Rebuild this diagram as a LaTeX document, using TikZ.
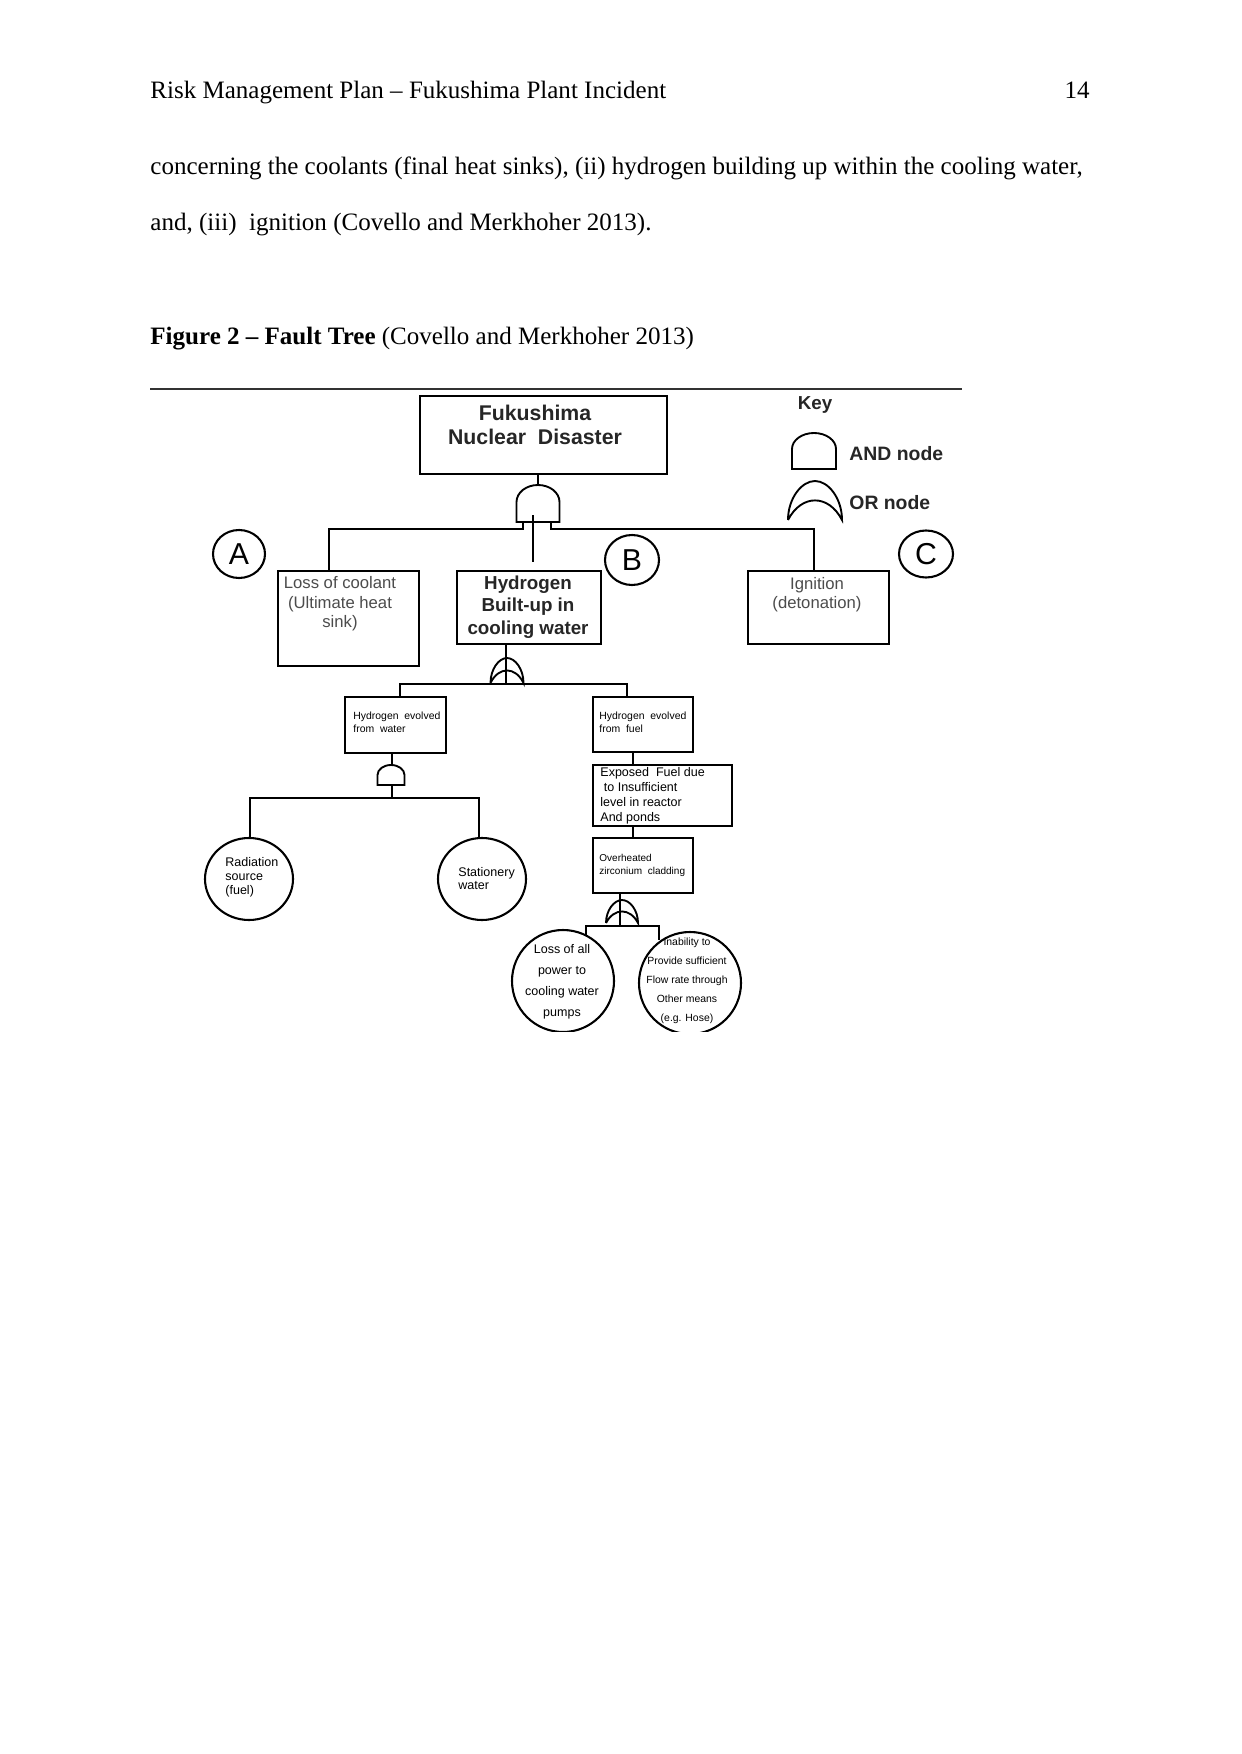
\documentclass[tikz,border=0pt]{standalone}
\usepackage{fontspec}
\setmainfont{Liberation Serif}
\newfontfamily\arialf{Liberation Sans}
\usetikzlibrary{shapes.geometric,calc}
\def\U{0.4795pt}
\newcommand\FTand[5]{% cx, top, width, height, arc height
  \draw[gate] ({#1-#3/2},{#2+#4}) -- ({#1-#3/2},{#2+#5})
    .. controls ({#1-#3/2},{#2+0.448*#5}) and ({#1-0.276*#3},{#2}) .. ({#1},{#2})
    .. controls ({#1+0.276*#3},{#2}) and ({#1+#3/2},{#2+0.448*#5}) .. ({#1+#3/2},{#2+#5})
    -- ({#1+#3/2},{#2+#4}) -- cycle;}
\newcommand\FTor[4]{% cx, top, width, height
  \draw[gate] ({#1-#3/2},{#2+#4})
    .. controls ({#1-#3/2},{#2+0.45*#4}) and ({#1-0.25*#3},{#2}) .. ({#1},{#2})
    .. controls ({#1+0.25*#3},{#2}) and ({#1+#3/2},{#2+0.45*#4}) .. ({#1+#3/2},{#2+#4})
    .. controls ({#1+0.25*#3},{#2+0.33*#4}) and ({#1-0.25*#3},{#2+0.33*#4}) .. ({#1-#3/2},{#2+#4});}
\begin{document}
\begin{tikzpicture}[x=0.4795pt,y=-0.4795pt,
  box/.style 2 args={draw, rectangle, line width=1pt, inner sep=0pt,
    minimum width=#1*\U, minimum height=#2*\U},
  ell/.style 2 args={draw, ellipse, line width=1pt, inner sep=0pt,
    minimum width=#1*\U, minimum height=#2*\U},
  conn/.style={line width=0.9pt},
  gate/.style={line width=0.9pt},
  page/.style={inner sep=0pt, font=\fontsize{12}{14}\selectfont},
  tx/.style={inner sep=0pt, align=center},
  txl/.style={inner sep=0pt, align=left}
]
\fill[white] (0,0) rectangle (1241,1754);
\useasboundingbox (0,0) rectangle (1241,1754);

% page text
\node[page, anchor=base west] (hdr) at (150,99) {Risk Management Plan – Fukushima Plant Incident};
\node[page, anchor=base east] (pgno) at (1090,99) {14};
\node[page, anchor=base west] (b1) at (150,175) {concerning the coolants (final heat sinks), (ii) hydrogen building up within the cooling water,};
\node[page, anchor=base west] (b2) at (150,231) {and, (iii)\ \ ignition (Covello and Merkhoher 2013).};
\node[page, anchor=base west] (cap) at (150,345) {\textbf{Figure 2 – Fault Tree} (Covello and Merkhoher 2013)};
\draw[line width=0.7pt, black!80] (150,389) -- (962,389);

% boxes
\node[box={247}{78}] (fuk) at (543.5,435) {};
\node[tx, font=\arialf\bfseries\fontsize{10.2}{11.5}\selectfont, text=black!85] (fukt) at (535,425) {Fukushima\\Nuclear\ \ Disaster};
\node[box={141}{95}] (loss) at (348.5,618.5) {};
\node[tx, anchor=north, font=\arialf\fontsize{8}{9.35}\selectfont, text=black!70] (losst) at (340,576) {Loss of coolant\\(Ultimate heat\\sink)};
\node[box={144}{73}] (hyd) at (529,607.5) {};
\node[tx, font=\arialf\bfseries\fontsize{9}{10.8}\selectfont, text=black!85] (hydt) at (528,607) {Hydrogen\\Built-up in\\cooling water};
\node[box={141}{73}] (ign) at (818.5,607.5) {};
\node[tx, anchor=north, font=\arialf\fontsize{8}{9.1}\selectfont, text=black!70] (ignt) at (817,577) {Ignition\\(detonation)};

\node[box={101}{56}] (hw) at (395.5,725) {};
\node[txl, anchor=north west, font=\arialf\fontsize{5}{6.2}\selectfont] (hwt) at (353,712) {Hydrogen\ \ evolved\\from\ \ water};
\node[box={100}{55}] (hf) at (643,724.5) {};
\node[txl, anchor=north west, font=\arialf\fontsize{5}{6.2}\selectfont] (hft) at (599,712) {Hydrogen\ \ evolved\\from\ \ fuel};
\node[box={139}{61}] (exp) at (662.5,795.5) {};
\node[txl, anchor=north west, font=\arialf\fontsize{6}{7.2}\selectfont] (expt) at (600,767) {Exposed\ \ Fuel due\\\ to Insufficient\\level in reactor\\And ponds};
\node[box={100}{55}] (ovh) at (643,865.5) {};
\node[txl, anchor=north west, font=\arialf\fontsize{4.8}{6}\selectfont] (ovht) at (599,854) {Overheated\\zirconium\ \ cladding};

% letter circles
\node[ell={52}{48}, font=\arialf\fontsize{14.5}{16}\selectfont] (cA) at (239,554) {A};
\node[ell={54}{50}, font=\arialf\fontsize{14.5}{16}\selectfont] (cB) at (632,560) {B};
\node[ell={54}{47}, font=\arialf\fontsize{14.5}{16}\selectfont] (cC) at (926,554) {C};

% event circles
\node[ell={88}{82}] (rad) at (249,879) {};
\node[txl, anchor=west, font=\arialf\fontsize{6}{6.7}\selectfont] (radt) at (225,877) {Radiation\\source\\(fuel)};
\node[ell={88}{82}] (sta) at (482,879) {};
\node[txl, anchor=west, font=\arialf\fontsize{6}{6.2}\selectfont] (stat) at (458,878.5) {Stationery\\water};
\begin{scope}
\clip (0,0) rectangle (1241,1031);
\node[ell={102}{102}] (lall) at (563,981) {};
\node[ell={102}{102}] (inab) at (690,983) {};
\end{scope}
\node[tx, font=\arialf\fontsize{6}{10}\selectfont] (lallt) at (562,981.5) {Loss of all\\power to\\cooling water\\pumps};
\node[tx, font=\arialf\fontsize{5}{9.1}\selectfont] (inabt) at (687,981) {Inability to\\Provide sufficient\\Flow rate through\\Other means\\(e.g. Hose)};

% key
\node[inner sep=0pt, font=\arialf\bfseries\fontsize{9}{10}\selectfont, text=black!85] (key) at (815,405) {Key};
\FTand{814}{433}{44}{36}{16}
\node[inner sep=0pt, anchor=west, font=\arialf\bfseries\fontsize{9.3}{10}\selectfont, text=black!85] (kand) at (849,454) {AND node};
\FTor{815}{481}{54}{39}
\node[inner sep=0pt, anchor=west, font=\arialf\bfseries\fontsize{9.3}{10}\selectfont, text=black!85] (kor) at (849,503) {OR node};

% top AND gate and connectors
\coordinate (g1) at (538,485);
\draw[conn] (fuk.south -| g1) -- (g1);
\FTand{538}{485}{43}{37}{17}
\coordinate (gl) at (523,522);
\coordinate (gr) at (551,522);
\coordinate (aL) at (329,529);
\coordinate (aR) at (814,529);
\coordinate (aM) at (533,515);
\draw[conn] (gl) |- (aL) -- (aL |- loss.north);
\draw[conn] (gr) |- (aR) -- (aR |- ign.north);
\draw[conn] (aM) -- ($(aM |- hyd.north)+(0,-8)$);

% OR gate under hydrogen
\coordinate (o1) at (506,684);
\draw[conn] (o1 |- hyd.south) -- (o1);
\FTor{507}{658}{33}{25}
\coordinate (bL) at (400,684);
\coordinate (bR) at (627,684);
\draw[conn] (bL |- hw.north) -- (bL) -- (bR) -- (bR |- hf.north);

% AND gate under hw
\coordinate (g2) at (392,765);
\draw[conn] (g2 |- hw.south) -- (g2);
\FTand{391}{765}{27}{20}{10}
\coordinate (g2b) at (392,785);
\coordinate (cL) at (250,798);
\coordinate (cR) at (479,798);
\draw[conn] (g2b) -- (g2b |- cL);
\draw[conn] (cL |- rad.north) -- (cL) -- (cR) -- (cR |- sta.north);

% right chain
\coordinate (sp) at (633,760);
\draw[conn] (sp |- hf.south) -- (sp |- exp.north);
\draw[conn] (sp |- exp.south) -- (sp |- ovh.north);

% OR gate under overheated
\coordinate (o2) at (620,926);
\draw[conn] (o2 |- ovh.south) -- (o2);
\FTor{622}{900}{32}{23}
\coordinate (dL) at (586,926);
\coordinate (dR) at (659,926);
\coordinate (dLe) at (586,936);
\coordinate (dRe) at (659,940);
\draw[conn] (dLe) -- (dL) -- (dR) -- (dRe);
\end{tikzpicture}
\end{document}
